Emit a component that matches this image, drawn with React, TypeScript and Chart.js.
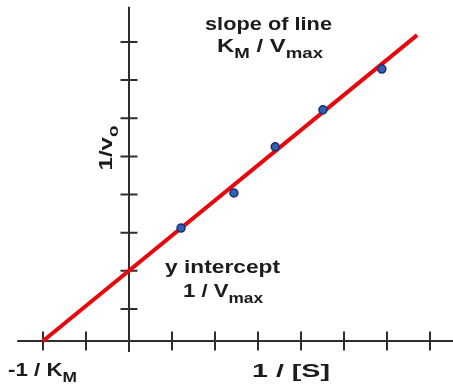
import { useEffect, useRef } from "react";
import { Chart, registerables } from "chart.js";

Chart.register(...registerables);

// ---- data ----
const lineX = [-2, 6.7];
const lineY = [0, 8.02];
const pointX = [1.21, 2.44, 3.4, 4.51, 5.88];
const pointY = [2.96, 3.88, 5.09, 6.06, 7.13];
const xTicks = [-2, -1, 1, 2, 3, 4, 5, 6, 7];
const yTicks = [0.84, 1.84, 2.84, 3.84, 4.84, 5.84, 6.84, 7.84];

const slopeTitle = "slope of line";
const slopeFormula = [{ t: "K" }, { t: "M", sub: true }, { t: " / V" }, { t: "max", sub: true }];
const interceptTitle = "y intercept";
const interceptFormula = [{ t: "1 / V" }, { t: "max", sub: true }];
const xInterceptLabel = [{ t: "-1 / K" }, { t: "M", sub: true }];
const xAxisLabel = [{ t: "1 / [S]" }];
const yAxisLabel = [{ t: "1/v" }, { t: "o", sub: true }];

type Seg = { t: string; sub?: boolean };

const FONT = '"Liberation Sans", Arial, sans-serif';
const TEXT = "#1c1c1c";
const AXIS = "#2e2e2e";

function drawSegs(
  ctx: CanvasRenderingContext2D,
  segs: Seg[],
  x: number,
  baseline: number,
  width: number,
  size: number,
  align: "left" | "center"
) {
  const subSize = size * 0.78;
  let total = 0;
  const widths = segs.map((s) => {
    ctx.font = `bold ${s.sub ? subSize : size}px ${FONT}`;
    const w = ctx.measureText(s.t).width;
    total += w;
    return w;
  });
  const sx = width / total;
  ctx.save();
  const left = align === "center" ? x - width / 2 : x;
  ctx.translate(left, baseline);
  ctx.scale(sx, 1);
  ctx.fillStyle = TEXT;
  ctx.textBaseline = "alphabetic";
  ctx.textAlign = "left";
  let pos = 0;
  segs.forEach((s, i) => {
    ctx.font = `bold ${s.sub ? subSize : size}px ${FONT}`;
    ctx.fillText(s.t, pos, s.sub ? size * 0.36 : 0);
    pos += widths[i];
  });
  ctx.restore();
}

const axesPlugin = {
  id: "lbAxes",
  beforeDatasetsDraw(chart: any) {
    const { ctx } = chart;
    const xs = chart.scales.x;
    const ys = chart.scales.y;
    const x0 = xs.getPixelForValue(0);
    const y0 = ys.getPixelForValue(0);
    ctx.save();
    ctx.strokeStyle = AXIS;
    ctx.lineWidth = 2;
    ctx.lineCap = "butt";
    ctx.beginPath();
    // x axis
    ctx.moveTo(xs.getPixelForValue(-2.6), y0);
    ctx.lineTo(xs.right, y0);
    // y axis
    ctx.moveTo(x0, ys.getPixelForValue(8.76));
    ctx.lineTo(x0, ys.getPixelForValue(-0.29));
    xTicks.forEach((v) => {
      const px = xs.getPixelForValue(v);
      ctx.moveTo(px, y0 - 9.5);
      ctx.lineTo(px, y0 + 9.5);
    });
    yTicks.forEach((v) => {
      const py = ys.getPixelForValue(v);
      ctx.moveTo(x0 - 8.5, py);
      ctx.lineTo(x0 + 8.5, py);
    });
    ctx.stroke();
    ctx.restore();
  },
  afterDraw(chart: any) {
    const { ctx } = chart;
    drawSegs(ctx, [{ t: slopeTitle }], 268.5, 30, 127, 18, "center");
    drawSegs(ctx, slopeFormula, 270, 52, 106, 18, "center");
    drawSegs(ctx, [{ t: interceptTitle }], 222.5, 273, 115, 18, "center");
    drawSegs(ctx, interceptFormula, 223, 297, 80, 18, "center");
    drawSegs(ctx, xInterceptLabel, 8, 376, 69, 18, "left");
    drawSegs(ctx, xAxisLabel, 252, 377, 78, 18, "left");
    ctx.save();
    ctx.translate(112, 148);
    ctx.rotate(-Math.PI / 2);
    drawSegs(ctx, yAxisLabel, 0, 0, 45, 18, "center");
    ctx.restore();
  },
};

export default function App() {
  const ref = useRef<HTMLCanvasElement | null>(null);
  useEffect(() => {
    document.body.style.margin = "0";
    if (!ref.current) return;
    const chart = new Chart(ref.current, {
      type: "scatter",
      data: {
        datasets: [
          {
            label: "points",
            data: pointX.map((x, i) => ({ x, y: pointY[i] })),
            backgroundColor: "#2f5fb0",
            borderColor: "#17306e",
            borderWidth: 1.5,
            pointRadius: 4,
            order: 0,
          },
          {
            label: "line",
            data: lineX.map((x, i) => ({ x, y: lineY[i] })),
            showLine: true,
            borderColor: "#e8080c",
            borderWidth: 4,
            pointRadius: 0,
            order: 1,
          },
        ],
      },
      options: {
        responsive: false,
        animation: false,
        layout: { padding: 0, autoPadding: false },
        plugins: { legend: { display: false }, tooltip: { enabled: false } },
        scales: {
          x: { type: "linear", display: false, min: -3, max: 7.535 },
          y: { type: "linear", display: false, min: -1.206, max: 8.94 },
        },
      },
      plugins: [axesPlugin],
    });
    return () => chart.destroy();
  }, []);
  return (
    <div style={{ position: "fixed", left: 0, top: 0, width: 453, height: 387, background: "#fff" }}>
      <canvas ref={ref} width={453} height={387} />
    </div>
  );
}
